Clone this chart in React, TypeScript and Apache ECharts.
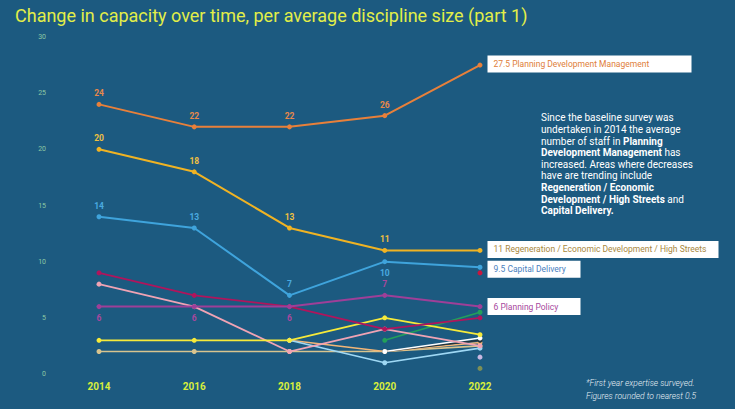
import React, { useEffect, useRef } from "react";
import * as echarts from "echarts";

const years = ["2014", "2016", "2018", "2020", "2022"];
const yTicks = [0, 5, 10, 15, 20, 25, 30];

const pdm = [24, 22, 22, 23, 27.5];
const pdmLabels = ["24", "22", "22", "26", ""];
const regen = [20, 18, 13, 11, 11];
const regenLabels = ["20", "18", "13", "11", ""];
const capital = [14, 13, 7, 10, 9.5];
const capitalLabels = ["14", "13", "7", "10", ""];
const policy = [6, 6, 6, 7, 6];
const policyLabels = ["6", "6", "6", "7", ""];
const crimson = [9, 7, 6, 4, 5];
const pink = [8, 6, 2, 4, 2.5];
const yellow = [3, 3, 3, 5, 3.5];
const beige = [2, 2, 2, 2, 2.5];
const peach = [null, null, 3, 2, 2.8];
const dark = [null, null, null, 2, 3];
const white = [null, null, null, 2, 3.2];
const lightBlue = [null, null, 3, 1, 2.3];
const green = [null, null, null, 3, 5.5];
const redPoint = [null, null, null, null, 9];
const lavender = [null, null, null, null, 1.5];
const olive = [null, null, null, null, 0.5];

const endNames = [
  "27.5 Planning Development Management",
  "11 Regeneration / Economic Development / High Streets",
  "9.5 Capital Delivery",
  "6 Planning Policy",
];

export default function App() {
  const ref = useRef<HTMLDivElement>(null);
  useEffect(() => {
    if (!ref.current) return;
    const chart = echarts.init(ref.current, undefined, { renderer: "svg" });

    const labelled = (
      values: number[],
      labels: string[],
      color: string,
      below: boolean[],
      endText: string,
      textColor: string,
      boxWidth: number,
      offsetY: number
    ) =>
      values.map((v, i) => {
        if (i === values.length - 1) {
          return {
            value: v,
            label: {
              show: true,
              position: "right",
              distance: 5,
              offset: [0, offsetY],
              formatter: endText,
              backgroundColor: "#ffffff",
              color: textColor,
              fontSize: 8.5,
              fontFamily: "Roboto",
              fontWeight: "normal",
              padding: [4, 6, 4, 6],
              width: boxWidth,
              align: "left",
            },
          };
        }
        return {
          value: v,
          label: {
            show: labels[i] !== "",
            position: below[i] ? "bottom" : "top",
            distance: 4,
            formatter: labels[i],
            color,
            fontSize: 8.5,
            fontWeight: "bold",
            fontFamily: "Roboto",
          },
        };
      });

    const simple = (name: string, data: (number | null)[], color: string, width = 1.6, z = 2) => ({
      name,
      type: "line",
      data,
      z,
      symbol: "circle",
      symbolSize: 5,
      connectNulls: false,
      lineStyle: { color, width },
      itemStyle: { color },
      label: { show: false },
    });

    const main = (name: string, data: any[], color: string) => ({
      name,
      type: "line",
      data,
      z: 5,
      symbol: "circle",
      symbolSize: 5,
      lineStyle: { color, width: 2 },
      itemStyle: { color },
    });

    chart.setOption({
      animation: false,
      backgroundColor: "#1c5a80",
      grid: { left: 99, right: 255, top: 37, bottom: 35, containLabel: false },
      xAxis: {
        type: "category",
        data: years,
        boundaryGap: false,
        axisLine: { show: false },
        axisTick: { show: false },
        axisLabel: {
          color: "#d8ee3c",
          fontWeight: "bold",
          fontSize: 10,
          fontFamily: "Roboto",
          margin: 7,
        },
        splitLine: { show: false },
      },
      yAxis: {
        type: "value",
        min: yTicks[0],
        max: yTicks[yTicks.length - 1],
        interval: 5,
        axisLine: { show: false },
        axisTick: { show: false },
        splitLine: { show: false },
        axisLabel: { color: "#8cc8a4", fontSize: 7, fontFamily: "Roboto", margin: 53 },
      },
      series: [
        simple("Olive", olive, "#7d8f55"),
        simple("Lavender", lavender, "#c9b8e2"),
        simple("Red", redPoint, "#c8163e"),
        simple("Beige", beige, "#d8c48e"),
        simple("Peach", peach, "#f2b677"),
        simple("Dark", dark, "#22323a"),
        simple("White", white, "#ffffff"),
        simple("Light blue", lightBlue, "#9fd8f4"),
        simple("Green", green, "#23a05a"),
        simple("Pink", pink, "#f0a3b4", 1.8),
        simple("Yellow", yellow, "#f6ea3a", 1.8),
        simple("Crimson", crimson, "#b0155c", 1.8, 3),
        main(
          "Planning Policy",
          labelled(policy, policyLabels, "#a8489e", [true, true, true, false, false], endNames[3], "#a8489e", 81, 0),
          "#9e3f98"
        ),
        main(
          "Capital Delivery",
          labelled(capital, capitalLabels, "#4aaae0", [false, false, false, true, false], endNames[2], "#4a7fc0", 81, 2),
          "#3fa4dc"
        ),
        main(
          "Regeneration",
          labelled(regen, regenLabels, "#f0c040", [false, false, false, false, false], endNames[1], "#a8873e", 219, -1),
          "#f0b323"
        ),
        main(
          "Planning Development Management",
          labelled(pdm, pdmLabels, "#e8884a", [false, false, false, false, false], endNames[0], "#e0803a", 192, -1),
          "#e8803a"
        ),
      ],
      graphic: [
        {
          type: "text",
          left: 15,
          top: 6,
          style: {
            text: "Change in capacity over time, per average discipline size (part 1)",
            fill: "#e2ee48",
            fontSize: 18,
            fontFamily: "Roboto",
          },
        },
        {
          type: "text",
          left: 541,
          top: 112,
          style: {
            text:
              "Since the baseline survey was\nundertaken in 2014 the average\nnumber of staff in {b|Planning}\n{b|Development Management} has\nincreased. Areas where decreases\nhave are trending include\n{b|Regeneration / Economic}\n{b|Development / High Streets} and\n{b|Capital Delivery.}",
            fill: "#ffffff",
            fontSize: 10,
            fontFamily: "Roboto",
            lineHeight: 11.6,
            rich: {
              b: { fontWeight: "bold", fontSize: 10, fontFamily: "Roboto", fill: "#ffffff", lineHeight: 11.6 },
            },
          },
        },
        {
          type: "text",
          left: 586,
          top: 377,
          style: {
            text: "*First year expertise surveyed.\nFigures rounded to nearest 0.5",
            fill: "#e8f0f6",
            fontSize: 8.5,
            fontStyle: "italic",
            fontWeight: 300,
            fontFamily: "Roboto",
            lineHeight: 12.5,
          },
        },
      ],
    });
    return () => chart.dispose();
  }, []);
  return <div ref={ref} style={{ width: 735, height: 409, position: "absolute", left: 0, top: 0 }} />;
}
